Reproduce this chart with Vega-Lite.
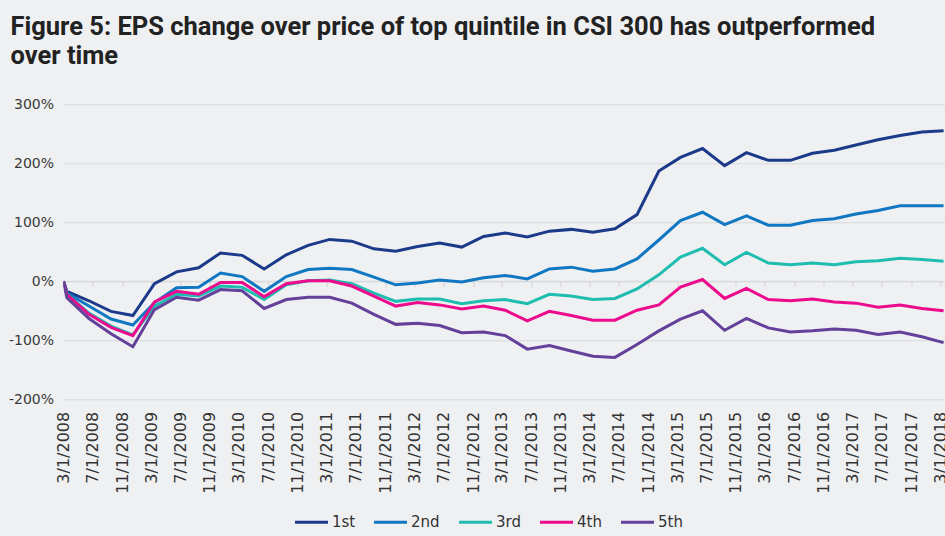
{
  "$schema": "https://vega.github.io/schema/vega-lite/v6.json",
  "width": 881.5,
  "height": 295,
  "autosize": {"type": "none"},
  "padding": {"left": 63.5, "top": 104.3, "right": 0, "bottom": 136.7},
  "background": "#eff0f2",
  "title": {
    "text": ["Figure 5: EPS change over price of top quintile in CSI 300 has outperformed", "over time"],
    "anchor": "start",
    "frame": "group",
    "dx": -53,
    "offset": 28,
    "font": "Roboto",
    "fontSize": 25.5,
    "fontWeight": "bold",
    "color": "#222222",
    "lineHeight": 29
  },
  "data": {
    "values": [
      {"d": "2008-03-01", "1st": 0, "2nd": 0, "3rd": 0, "4th": 0, "5th": 0},
      {"d": "2008-03-15", "1st": -17, "2nd": -20, "3rd": -22, "4th": -22, "5th": -28},
      {"d": "2008-06-15", "1st": -33, "2nd": -42, "3rd": -54, "4th": -56, "5th": -63},
      {"d": "2008-09-15", "1st": -51, "2nd": -64, "3rd": -76, "4th": -78, "5th": -89},
      {"d": "2008-12-15", "1st": -58, "2nd": -74, "3rd": -91, "4th": -92, "5th": -111},
      {"d": "2009-03-15", "1st": -4, "2nd": -36, "3rd": -42, "4th": -35, "5th": -48},
      {"d": "2009-06-15", "1st": 16, "2nd": -11, "3rd": -22, "4th": -17, "5th": -27},
      {"d": "2009-09-15", "1st": 23, "2nd": -10, "3rd": -25, "4th": -22, "5th": -32},
      {"d": "2009-12-15", "1st": 48, "2nd": 14, "3rd": -8, "4th": -2, "5th": -14},
      {"d": "2010-03-15", "1st": 44, "2nd": 8, "3rd": -10, "4th": -2, "5th": -16},
      {"d": "2010-06-15", "1st": 21, "2nd": -17, "3rd": -31, "4th": -26, "5th": -46},
      {"d": "2010-09-15", "1st": 45, "2nd": 8, "3rd": -6, "4th": -4, "5th": -31},
      {"d": "2010-12-15", "1st": 61, "2nd": 20, "3rd": 1, "4th": 1, "5th": -27},
      {"d": "2011-03-15", "1st": 71, "2nd": 22, "3rd": 2, "4th": 1, "5th": -27},
      {"d": "2011-06-15", "1st": 68, "2nd": 20, "3rd": -4, "4th": -8, "5th": -37},
      {"d": "2011-09-15", "1st": 55, "2nd": 7, "3rd": -20, "4th": -25, "5th": -56},
      {"d": "2011-12-15", "1st": 51, "2nd": -6, "3rd": -34, "4th": -42, "5th": -73},
      {"d": "2012-03-15", "1st": 59, "2nd": -3, "3rd": -30, "4th": -36, "5th": -71},
      {"d": "2012-06-15", "1st": 65, "2nd": 2, "3rd": -30, "4th": -40, "5th": -75},
      {"d": "2012-09-15", "1st": 58, "2nd": -1, "3rd": -38, "4th": -47, "5th": -87},
      {"d": "2012-12-15", "1st": 76, "2nd": 6, "3rd": -33, "4th": -42, "5th": -86},
      {"d": "2013-03-15", "1st": 82, "2nd": 10, "3rd": -31, "4th": -49, "5th": -92},
      {"d": "2013-06-15", "1st": 75, "2nd": 4, "3rd": -38, "4th": -67, "5th": -115},
      {"d": "2013-09-15", "1st": 85, "2nd": 21, "3rd": -22, "4th": -51, "5th": -109},
      {"d": "2013-12-15", "1st": 88, "2nd": 24, "3rd": -25, "4th": -58, "5th": -118},
      {"d": "2014-03-15", "1st": 83, "2nd": 17, "3rd": -31, "4th": -66, "5th": -127},
      {"d": "2014-06-15", "1st": 89, "2nd": 21, "3rd": -29, "4th": -66, "5th": -129},
      {"d": "2014-09-15", "1st": 113, "2nd": 38, "3rd": -13, "4th": -49, "5th": -107},
      {"d": "2014-12-15", "1st": 187, "2nd": 70, "3rd": 11, "4th": -40, "5th": -84},
      {"d": "2015-03-15", "1st": 210, "2nd": 103, "3rd": 41, "4th": -10, "5th": -64},
      {"d": "2015-06-15", "1st": 225, "2nd": 117, "3rd": 56, "4th": 3, "5th": -50},
      {"d": "2015-09-15", "1st": 196, "2nd": 96, "3rd": 28, "4th": -29, "5th": -83},
      {"d": "2015-12-15", "1st": 218, "2nd": 111, "3rd": 49, "4th": -12, "5th": -63},
      {"d": "2016-03-15", "1st": 205, "2nd": 95, "3rd": 31, "4th": -31, "5th": -79},
      {"d": "2016-06-15", "1st": 205, "2nd": 95, "3rd": 28, "4th": -33, "5th": -86},
      {"d": "2016-09-15", "1st": 217, "2nd": 103, "3rd": 31, "4th": -30, "5th": -84},
      {"d": "2016-12-15", "1st": 222, "2nd": 106, "3rd": 28, "4th": -35, "5th": -81},
      {"d": "2017-03-15", "1st": 231, "2nd": 114, "3rd": 33, "4th": -37, "5th": -83},
      {"d": "2017-06-15", "1st": 240, "2nd": 120, "3rd": 35, "4th": -44, "5th": -90},
      {"d": "2017-09-15", "1st": 247, "2nd": 128, "3rd": 39, "4th": -40, "5th": -86},
      {"d": "2017-12-15", "1st": 253, "2nd": 128, "3rd": 37, "4th": -46, "5th": -94},
      {"d": "2018-03-15", "1st": 255, "2nd": 128, "3rd": 34, "4th": -50, "5th": -104}
    ]
  },
  "transform": [
    {"fold": ["1st", "2nd", "3rd", "4th", "5th"], "as": ["q", "v"]}
  ],
  "layer": [
    {
      "mark": {"type": "rule", "color": "#d6d7d9", "strokeWidth": 1},
      "encoding": {
        "x": {
          "field": "d", "type": "temporal", "aggregate": "min",
          "scale": {"type": "utc", "domain": [{"year": 2008, "month": 3, "date": 1, "utc": true}, {"year": 2018, "month": 3, "date": 21, "utc": true}]},
          "axis": {
            "orient": "bottom", "offset": -117.6, "title": null, "labels": false, "grid": false,
            "domain": false, "ticks": true, "tickSize": 5, "tickColor": "#d0d1d3", "tickWidth": 1,
            "values": [
              {"year": 2008, "month": 3, "date": 1, "utc": true}, {"year": 2008, "month": 7, "date": 1, "utc": true}, {"year": 2008, "month": 11, "date": 1, "utc": true},
              {"year": 2009, "month": 3, "date": 1, "utc": true}, {"year": 2009, "month": 7, "date": 1, "utc": true}, {"year": 2009, "month": 11, "date": 1, "utc": true},
              {"year": 2010, "month": 3, "date": 1, "utc": true}, {"year": 2010, "month": 7, "date": 1, "utc": true}, {"year": 2010, "month": 11, "date": 1, "utc": true},
              {"year": 2011, "month": 3, "date": 1, "utc": true}, {"year": 2011, "month": 7, "date": 1, "utc": true}, {"year": 2011, "month": 11, "date": 1, "utc": true},
              {"year": 2012, "month": 3, "date": 1, "utc": true}, {"year": 2012, "month": 7, "date": 1, "utc": true}, {"year": 2012, "month": 11, "date": 1, "utc": true},
              {"year": 2013, "month": 3, "date": 1, "utc": true}, {"year": 2013, "month": 7, "date": 1, "utc": true}, {"year": 2013, "month": 11, "date": 1, "utc": true},
              {"year": 2014, "month": 3, "date": 1, "utc": true}, {"year": 2014, "month": 7, "date": 1, "utc": true}, {"year": 2014, "month": 11, "date": 1, "utc": true},
              {"year": 2015, "month": 3, "date": 1, "utc": true}, {"year": 2015, "month": 7, "date": 1, "utc": true}, {"year": 2015, "month": 11, "date": 1, "utc": true},
              {"year": 2016, "month": 3, "date": 1, "utc": true}, {"year": 2016, "month": 7, "date": 1, "utc": true}, {"year": 2016, "month": 11, "date": 1, "utc": true},
              {"year": 2017, "month": 3, "date": 1, "utc": true}, {"year": 2017, "month": 7, "date": 1, "utc": true}, {"year": 2017, "month": 11, "date": 1, "utc": true},
              {"year": 2018, "month": 3, "date": 1, "utc": true}
            ]
          }
        },
        "x2": {"field": "d", "aggregate": "max"},
        "y": {"datum": 0, "type": "quantitative"}
      }
    },
    {
      "mark": {"type": "line", "strokeWidth": 3, "clip": true},
      "encoding": {
        "x": {
          "field": "d", "type": "temporal",
          "axis": {
            "orient": "bottom", "title": null, "grid": false, "domain": false, "ticks": false,
            "labelAngle": -90, "labelPadding": 12, "labelFont": "DejaVu Sans", "labelFontSize": 16,
            "labelColor": "#333333", "labelOverlap": false, "labelFlush": false, "labelBound": false,
            "labelExpr": "utcFormat(datum.value, '%-m/%-d/%Y')",
            "values": [
              {"year": 2008, "month": 3, "date": 1, "utc": true}, {"year": 2008, "month": 7, "date": 1, "utc": true}, {"year": 2008, "month": 11, "date": 1, "utc": true},
              {"year": 2009, "month": 3, "date": 1, "utc": true}, {"year": 2009, "month": 7, "date": 1, "utc": true}, {"year": 2009, "month": 11, "date": 1, "utc": true},
              {"year": 2010, "month": 3, "date": 1, "utc": true}, {"year": 2010, "month": 7, "date": 1, "utc": true}, {"year": 2010, "month": 11, "date": 1, "utc": true},
              {"year": 2011, "month": 3, "date": 1, "utc": true}, {"year": 2011, "month": 7, "date": 1, "utc": true}, {"year": 2011, "month": 11, "date": 1, "utc": true},
              {"year": 2012, "month": 3, "date": 1, "utc": true}, {"year": 2012, "month": 7, "date": 1, "utc": true}, {"year": 2012, "month": 11, "date": 1, "utc": true},
              {"year": 2013, "month": 3, "date": 1, "utc": true}, {"year": 2013, "month": 7, "date": 1, "utc": true}, {"year": 2013, "month": 11, "date": 1, "utc": true},
              {"year": 2014, "month": 3, "date": 1, "utc": true}, {"year": 2014, "month": 7, "date": 1, "utc": true}, {"year": 2014, "month": 11, "date": 1, "utc": true},
              {"year": 2015, "month": 3, "date": 1, "utc": true}, {"year": 2015, "month": 7, "date": 1, "utc": true}, {"year": 2015, "month": 11, "date": 1, "utc": true},
              {"year": 2016, "month": 3, "date": 1, "utc": true}, {"year": 2016, "month": 7, "date": 1, "utc": true}, {"year": 2016, "month": 11, "date": 1, "utc": true},
              {"year": 2017, "month": 3, "date": 1, "utc": true}, {"year": 2017, "month": 7, "date": 1, "utc": true}, {"year": 2017, "month": 11, "date": 1, "utc": true},
              {"year": 2018, "month": 3, "date": 1, "utc": true}
            ]
          }
        },
        "y": {
          "field": "v", "type": "quantitative",
          "scale": {"domain": [-200, 300], "nice": false},
          "axis": {
            "title": null, "values": [-200, -100, 0, 100, 200, 300], "grid": true, "gridColor": "#d8d9db", "gridWidth": 1,
            "domain": false, "ticks": false, "labelPadding": 10, "labelFont": "DejaVu Sans", "labelFontSize": 14,
            "labelColor": "#3a3a3a", "labelExpr": "datum.value + '%'"
          }
        },
        "color": {
          "field": "q", "type": "nominal",
          "scale": {"domain": ["1st", "2nd", "3rd", "4th", "5th"], "range": ["#1b3a8a", "#1078c2", "#1fbcb0", "#ec0b8c", "#63409a"]},
          "legend": {
            "orient": "none", "legendX": 230, "legendY": 400, "direction": "horizontal", "columns": 5, "title": null,
            "symbolType": "stroke", "symbolStrokeWidth": 3, "symbolSize": 1089, "labelFont": "DejaVu Sans",
            "labelFontSize": 15, "labelColor": "#333333", "columnPadding": 12, "labelOffset": 2.5
          }
        }
      }
    }
  ],
  "resolve": {"axis": {"x": "independent"}},
  "config": {"view": {"stroke": null}}
}
